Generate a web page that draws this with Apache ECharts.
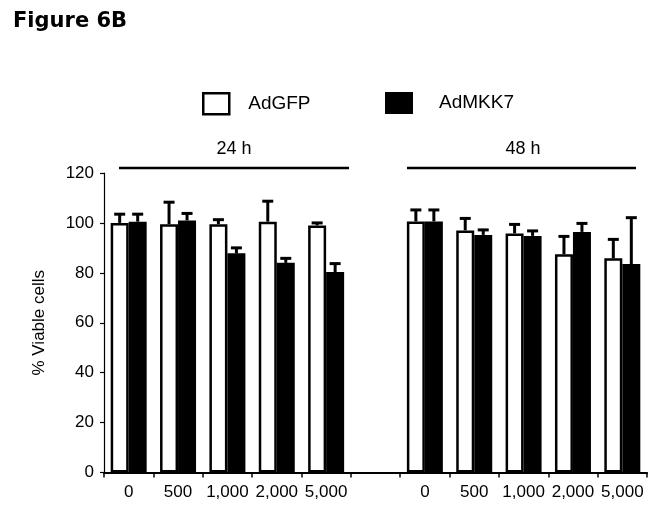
<!DOCTYPE html>
<html>
<head>
<meta charset="utf-8">
<script src="https://cdn.jsdelivr.net/npm/echarts@6/dist/echarts.min.js"></script>
<style>
html,body{margin:0;padding:0;background:#fff;}
#chart{width:670px;height:517px;}
</style>
</head>
<body>
<div id="chart"></div>
<script>
// ---- data ----
const doses = ['0', '500', '1,000', '2,000', '5,000'];
const timeGroups = ['24 h', '48 h'];
const seriesNames = ['AdGFP', 'AdMKK7'];
const gfp24 = [100, 99.5, 99.5, 100.5, 99];
const gfp24Err = [3.5, 8.8, 1.8, 8.2, 1];
const mkk24 = [100.5, 101, 87.8, 84, 80.3];
const mkk24Err = [3, 2.8, 2.2, 1.8, 3.4];
const gfp48 = [100.6, 97, 95.8, 87.4, 85.8];
const gfp48Err = [4.6, 4.8, 3.6, 7.2, 7.6];
const mkk48 = [100.6, 95.2, 94.8, 96.4, 83.5];
const mkk48Err = [4.6, 2, 2, 3.4, 18.6];
const yTicks = [0, 20, 40, 60, 80, 100, 120];

// ---- build ----
const tickLabels = [...doses, '', ...doses];
const catIdx = tickLabels.map((t, i) => String(i));
const gap = ['-'];
const gfpAll = [...gfp24, ...gap, ...gfp48];
const mkkAll = [...mkk24, ...gap, ...mkk48];
const gfpErrAll = [...gfp24Err, null, ...gfp48Err];
const mkkErrAll = [...mkk24Err, null, ...mkk48Err];

const BAR_W = 18;
const errData = [];
gfpAll.forEach((v, i) => { if (v !== '-') errData.push([i, v, gfpErrAll[i], -1]); });
mkkAll.forEach((v, i) => { if (v !== '-') errData.push([i, v, mkkErrAll[i], 1]); });

const FONT = '"Liberation Sans", Arial, sans-serif';
const chart = echarts.init(document.getElementById('chart'), null, {renderer: 'canvas'});

chart.setOption({
  animation: false,
  backgroundColor: '#fff',
  title: {
    text: 'Figure 6B', left: 13, top: 11, padding: 0,
    textStyle: {fontFamily: '"DejaVu Sans", sans-serif', fontWeight: 'bold', fontSize: 21, color: '#000'}
  },
  legend: [
    {
      data: [seriesNames[0]], left: 202, top: 92, padding: 0,
      itemWidth: 26, itemHeight: 21, icon: 'rect', selectedMode: false,
      itemStyle: {borderWidth: 2.5, borderColor: '#000', color: '#fff'},
      textStyle: {fontFamily: FONT, fontSize: 19, color: '#000', padding: [0, 0, 0, 14]}
    },
    {
      data: [seriesNames[1]], left: 385, top: 92, padding: 0,
      itemWidth: 28, itemHeight: 22, icon: 'rect', selectedMode: false,
      itemStyle: {borderWidth: 0, color: '#000'},
      textStyle: {fontFamily: FONT, fontSize: 19, color: '#000', padding: [0, 0, 0, 21]}
    }
  ],
  grid: {left: 104, right: 23, top: 173, bottom: 44.5, containLabel: false, outerBoundsMode: 'none'},
  xAxis: {
    type: 'category',
    data: catIdx,
    boundaryGap: true,
    axisLine: {lineStyle: {color: '#000', width: 2}},
    axisTick: {show: true, length: 5, lineStyle: {color: '#000', width: 1.5}},
    axisLabel: {
      fontFamily: FONT, fontSize: 17, color: '#000', margin: 11, interval: 0,
      formatter: (v, i) => tickLabels[i]
    },
    splitLine: {show: false}
  },
  yAxis: {
    type: 'value', min: 0, max: 120, interval: 20,
    name: '% Viable cells', nameLocation: 'middle', nameGap: 56, nameRotate: 90,
    nameTextStyle: {fontFamily: FONT, fontSize: 17, color: '#000'},
    axisLine: {show: true, lineStyle: {color: '#000', width: 1.2}},
    axisTick: {show: true, length: 4, lineStyle: {color: '#000', width: 1.2}},
    axisLabel: {fontFamily: FONT, fontSize: 17, color: '#000', margin: 10,
      formatter: v => yTicks.includes(v) ? String(v) : ''},
    splitLine: {show: false}
  },
  series: [
    {
      name: seriesNames[0], type: 'bar', data: gfpAll,
      barWidth: BAR_W, barGap: '0%',
      itemStyle: {color: '#fff', borderColor: '#000', borderWidth: 2.5},
      z: 2
    },
    {
      name: seriesNames[1], type: 'bar', data: mkkAll,
      barWidth: BAR_W, barGap: '0%',
      itemStyle: {color: '#000', borderColor: '#000', borderWidth: 0},
      z: 2
    },
    {
      type: 'custom', name: 'err', data: errData, z: 3,
      encode: {x: 0, y: 1},
      renderItem: function (params, api) {
        const x = api.value(0), v = api.value(1), e = api.value(2), side = api.value(3);
        const base = api.coord([x, v]);
        const top = api.coord([x, v + e]);
        const cx = base[0] + side * BAR_W / 2;
        return {
          type: 'group',
          children: [
            {type: 'line', shape: {x1: cx, y1: base[1], x2: cx, y2: top[1]}, style: {stroke: '#000', lineWidth: 3}},
            {type: 'line', shape: {x1: cx - 5.5, y1: top[1], x2: cx + 5.5, y2: top[1]}, style: {stroke: '#000', lineWidth: 3}}
          ]
        };
      }
    }
  ],
  graphic: [
    {type: 'line', shape: {x1: 119, y1: 168, x2: 349, y2: 168}, style: {stroke: '#000', lineWidth: 2.5}},
    {type: 'line', shape: {x1: 407, y1: 168, x2: 636, y2: 168}, style: {stroke: '#000', lineWidth: 2.5}},
    {type: 'text', x: 234, y: 149, style: {text: timeGroups[0], fontFamily: FONT, fontSize: 18, fill: '#000', align: 'center', verticalAlign: 'middle'}},
    {type: 'text', x: 523, y: 149, style: {text: timeGroups[1], fontFamily: FONT, fontSize: 18, fill: '#000', align: 'center', verticalAlign: 'middle'}}
  ]
});
</script>
</body>
</html>
